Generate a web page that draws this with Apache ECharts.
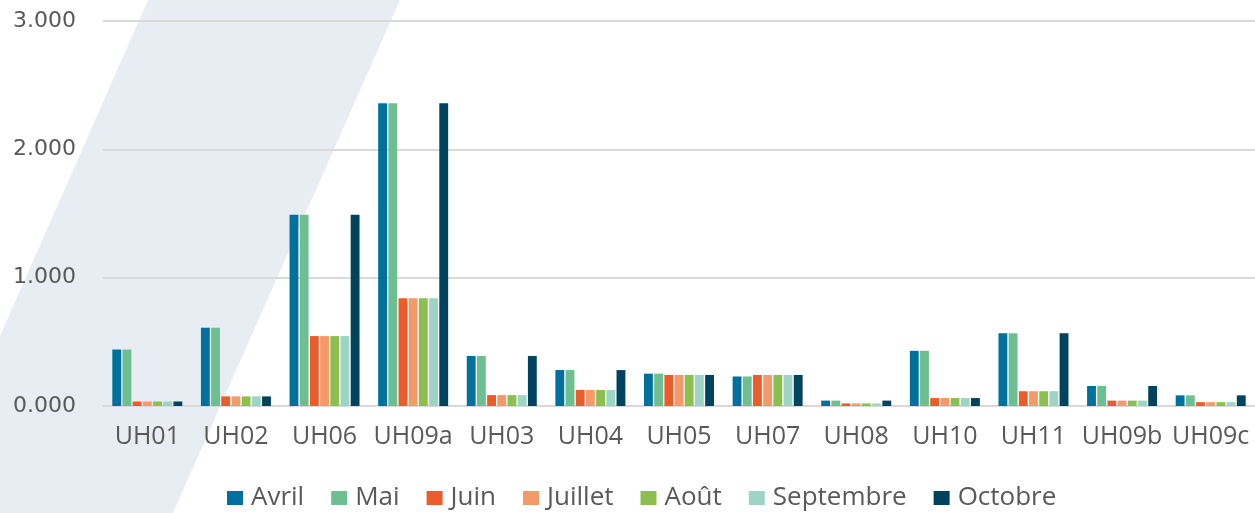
<!DOCTYPE html>
<html>
<head>
<meta charset="utf-8">
<script src="https://cdn.jsdelivr.net/npm/echarts@6/dist/echarts.min.js"></script>
</head>
<body style="margin:0;">
<div id="main" style="width:1255px;height:513px;"></div>
<script>
var categories = ['UH01', 'UH02', 'UH06', 'UH09a', 'UH03', 'UH04', 'UH05', 'UH07', 'UH08', 'UH10', 'UH11', 'UH09b', 'UH09c'];
var months = ['Avril', 'Mai', 'Juin', 'Juillet', 'Août', 'Septembre', 'Octobre'];
var colors = ['#00719c', '#6dbe91', '#ea5c2b', '#f3996a', '#8bc04f', '#9dd4c5', '#00435e'];

var avril     = [0.440, 0.610, 1.490, 2.360, 0.390, 0.280, 0.252, 0.230, 0.042, 0.430, 0.567, 0.156, 0.083];
var mai       = [0.440, 0.610, 1.490, 2.360, 0.390, 0.280, 0.252, 0.230, 0.042, 0.430, 0.567, 0.156, 0.083];
var juin      = [0.035, 0.075, 0.545, 0.840, 0.085, 0.125, 0.242, 0.242, 0.020, 0.062, 0.115, 0.042, 0.030];
var juillet   = [0.035, 0.075, 0.545, 0.840, 0.085, 0.125, 0.242, 0.242, 0.020, 0.062, 0.115, 0.042, 0.030];
var aout      = [0.035, 0.075, 0.545, 0.840, 0.085, 0.125, 0.242, 0.242, 0.020, 0.062, 0.115, 0.042, 0.030];
var septembre = [0.035, 0.075, 0.545, 0.840, 0.085, 0.125, 0.242, 0.242, 0.020, 0.062, 0.115, 0.042, 0.030];
var octobre   = [0.035, 0.075, 1.490, 2.360, 0.390, 0.280, 0.242, 0.242, 0.042, 0.062, 0.567, 0.156, 0.083];
var seriesData = [avril, mai, juin, juillet, aout, septembre, octobre];

var font = '"Open Sans", "Noto Sans", sans-serif';
var series = [];
for (var i = 0; i < months.length; i++) {
    series.push({
        name: months[i],
        type: 'bar',
        data: seriesData[i],
        barGap: '15%',
        barCategoryGap: '21%',
        itemStyle: {color: colors[i]}
    });
}

var myChart = echarts.init(document.getElementById('main'));
var option = {
    backgroundColor: '#ffffff',
    color: colors,
    animation: false,
    // bande décorative en fond
    graphic: [{
        type: 'polygon',
        z: -10,
        silent: true,
        shape: {points: [[148, 0], [400, 0], [173, 513], [-78, 513]]},
        style: {fill: '#e8edf3'}
    }],
    grid: {left: 103, right: 0, top: 21, bottom: 107},
    legend: {
        top: 485,
        left: 227,
        padding: 0,
        itemWidth: 16,
        itemHeight: 14,
        itemGap: 27,
        icon: 'rect',
        textStyle: {color: '#595959', fontSize: 26, fontFamily: font, padding: [0, 0, 0, 3]}
    },
    xAxis: {
        type: 'category',
        data: categories,
        axisLine: {lineStyle: {color: '#d9d9d9', width: 2}},
        axisTick: {show: false},
        axisLabel: {color: '#595959', fontSize: 25, fontFamily: font, margin: 18, interval: 0}
    },
    yAxis: {
        type: 'value',
        min: 0,
        max: 3,
        interval: 1,
        axisLine: {show: false},
        axisTick: {show: false},
        splitLine: {lineStyle: {color: '#d9d9d9', width: 2}},
        axisLabel: {
            color: '#595959', fontSize: 22, fontFamily: '"DejaVu Sans", sans-serif', margin: 27,
            formatter: function (v) { return v.toFixed(3); }
        }
    },
    series: series
};
myChart.setOption(option);
</script>
</body>
</html>
